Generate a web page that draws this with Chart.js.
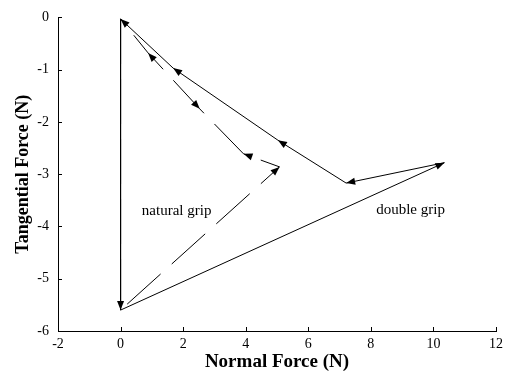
<!DOCTYPE html>
<html>
<head>
<meta charset="utf-8">
<script src="https://cdn.jsdelivr.net/npm/chart.js@4"></script>
<style>
  html, body { margin: 0; padding: 0; background: #fff; }
  #wrap { width: 508px; height: 373px; }
</style>
</head>
<body>
<div id="wrap"><canvas id="forceChart"></canvas></div>
<script>
// --- data ---
const xTicks = [-2, 0, 2, 4, 6, 8, 10, 12];
const yTicks = [-6, -5, -4, -3, -2, -1, 0];

// double grip (solid), path order
const doubleGripX = [0, 0, 10.35, 7.21, 5.03, 1.68, 0];
const doubleGripY = [-0.03, -5.6, -2.78, -3.17, -2.35, -0.97, -0.03];
const doubleGripArrows = [0, 1, 1, 1, 1, 1, 1]; // 1 = along path, -1 = against, 0 = none

// natural grip (dashed), path order
const naturalGripX = [0, 0, 5.08, 3.93, 2.53, 0.88, 0];
const naturalGripY = [-0.03, -5.6, -2.86, -2.61, -1.75, -0.68, -0.03];
const naturalGripArrows = [0, 0, 1, 1, -1, 1, 0];

const labelNatural = { text: 'natural grip', x: 0.68, y: -3.71 };
const labelDouble = { text: 'double grip', x: 8.17, y: -3.69 };

const SERIF = "'Liberation Serif', 'Times New Roman', serif";

function toPoints(xs, ys) {
    return xs.map((x, i) => ({ x: x, y: ys[i] }));
}

// arrow heads + inward tick marks + the two text labels
const decorPlugin = {
    id: 'decor',
    afterDatasetsDraw(chart) {
        const ctx = chart.ctx;
        chart.data.datasets.forEach((ds, di) => {
            const pts = chart.getDatasetMeta(di).data;
            ds.arrows.forEach((flag, i) => {
                if (!flag) return;
                const tip = pts[i];
                const from = flag > 0 ? pts[i - 1] : pts[i + 1];
                const ang = Math.atan2(tip.y - from.y, tip.x - from.x);
                const len = 9, hw = 3.5;
                ctx.save();
                ctx.translate(tip.x, tip.y);
                ctx.rotate(ang);
                ctx.beginPath();
                ctx.moveTo(0, 0);
                ctx.lineTo(-len, -hw);
                ctx.lineTo(-len, hw);
                ctx.closePath();
                ctx.fillStyle = '#000';
                ctx.fill();
                ctx.restore();
            });
        });

        const xs = chart.scales.x, ys = chart.scales.y;
        ctx.save();
        ctx.fillStyle = '#000';
        ctx.font = '15px ' + SERIF;
        ctx.textBaseline = 'middle';
        ctx.textAlign = 'left';
        [labelNatural, labelDouble].forEach(l => {
            ctx.fillText(l.text, xs.getPixelForValue(l.x), ys.getPixelForValue(l.y));
        });
        ctx.restore();
    },
    afterDraw(chart) {
        const ctx = chart.ctx;
        const xs = chart.scales.x, ys = chart.scales.y;
        const area = chart.chartArea;
        ctx.save();
        ctx.strokeStyle = '#000';
        ctx.lineWidth = 1;
        ctx.beginPath();
        xTicks.forEach(v => {
            const px = Math.round(xs.getPixelForValue(v)) + 0.5;
            ctx.moveTo(px, area.bottom);
            ctx.lineTo(px, area.bottom - 4);
        });
        yTicks.forEach(v => {
            const py = Math.round(ys.getPixelForValue(v)) + 0.5;
            ctx.moveTo(area.left, py);
            ctx.lineTo(area.left + 4, py);
        });
        ctx.stroke();
        ctx.restore();
    }
};

new Chart(document.getElementById('forceChart'), {
    type: 'scatter',
    data: {
        datasets: [{
            label: 'double grip',
            data: toPoints(doubleGripX, doubleGripY),
            arrows: doubleGripArrows,
            showLine: true,
            borderColor: '#000',
            borderWidth: 1,
            pointRadius: 0,
            tension: 0
        }, {
            label: 'natural grip',
            data: toPoints(naturalGripX, naturalGripY),
            arrows: naturalGripArrows,
            showLine: true,
            borderColor: '#000',
            borderWidth: 1,
            borderDash: [45, 15],
            pointRadius: 0,
            tension: 0
        }]
    },
    options: {
        responsive: true,
        maintainAspectRatio: false,
        animation: false,
        layout: { padding: { top: 14, right: 10, left: 0, bottom: 0 } },
        plugins: {
            legend: { display: false },
            tooltip: { enabled: false }
        },
        scales: {
            x: {
                type: 'linear',
                min: -2,
                max: 12,
                afterBuildTicks: s => { s.ticks = xTicks.map(v => ({ value: v })); },
                afterFit: s => { s.height = 42; },
                grid: { display: false, drawTicks: false },
                border: { display: true, color: '#000', width: 1 },
                ticks: { color: '#000', padding: 5, maxRotation: 0, font: { family: SERIF, size: 14 } },
                title: {
                    display: true,
                    text: 'Normal Force (N)',
                    color: '#000',
                    padding: { top: 1, bottom: 0 },
                    font: { family: SERIF, size: 19, weight: 'bold', lineHeight: 1.2 }
                }
            },
            y: {
                type: 'linear',
                min: -6,
                max: 0,
                afterBuildTicks: s => { s.ticks = yTicks.map(v => ({ value: v })); },
                afterFit: s => { s.width = 58; },
                grid: { display: false, drawTicks: false },
                border: { display: true, color: '#000', width: 1 },
                ticks: { color: '#000', padding: 9, font: { family: SERIF, size: 14 } },
                title: {
                    display: true,
                    text: 'Tangential Force (N)',
                    color: '#000',
                    padding: { top: 13, bottom: 0 },
                    font: { family: SERIF, size: 18, weight: 'bold', lineHeight: 1.2 }
                }
            }
        }
    },
    plugins: [decorPlugin]
});
</script>
</body>
</html>
